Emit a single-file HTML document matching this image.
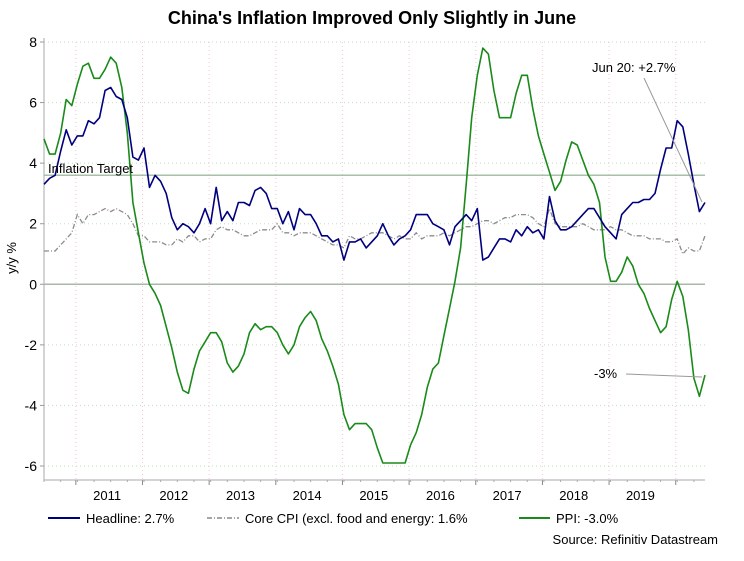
<!DOCTYPE html>
<html><head><meta charset="utf-8"><style>
body{margin:0;background:#fff;font-family:"Liberation Sans",sans-serif}
svg{display:block}
</style></head><body>
<svg id="c" width="744" height="561" xmlns="http://www.w3.org/2000/svg" font-family="Liberation Sans, sans-serif">
<text x="372" y="24" text-anchor="middle" font-size="18" font-weight="bold" fill="#000">China's Inflation Improved Only Slightly in June</text>
<g id="grid"></g>
<g id="axes"></g>
<g id="series"></g>
<text transform="translate(16,258) rotate(-90)" text-anchor="middle" font-size="13">y/y %</text>
<text x="48" y="173" font-size="13" fill="#000">Inflation Target</text>
<text x="592" y="72" font-size="13">Jun 20: +2.7%</text>
<line x1="644" y1="78" x2="702" y2="202" stroke="#999" stroke-width="1"/>
<text x="594" y="378" font-size="13">-3%</text>
<line x1="626" y1="374" x2="702" y2="377" stroke="#999" stroke-width="1"/>
<g font-size="13">
<line x1="48" y1="518" x2="80" y2="518" stroke="#00007f" stroke-width="2"/>
<text x="86" y="523">Headline: 2.7%</text>
<line x1="207" y1="518" x2="239" y2="518" stroke="#888" stroke-width="1.5" stroke-dasharray="5,2,1,2"/>
<text x="245" y="523">Core CPI (excl. food and energy: 1.6%</text>
<line x1="519" y1="518" x2="550" y2="518" stroke="#1a8a1a" stroke-width="2"/>
<text x="556" y="523">PPI: -3.0%</text>
</g>
<text x="718" y="544" text-anchor="end" font-size="13">Source: Refinitiv Datastream</text>
</svg>
<script>
const years=["2011","2012","2013","2014","2015","2016","2017","2018","2019"];
const yTicks=[8,6,4,2,0,-2,-4,-6];
const headline=[3.3,3.5,3.6,4.4,5.1,4.6,
4.9,4.9,5.4,5.3,5.5,6.4,6.5,6.2,6.1,5.5,4.2,4.1,
4.5,3.2,3.6,3.4,3.0,2.2,1.8,2.0,1.9,1.7,2.0,2.5,
2.0,3.2,2.1,2.4,2.1,2.7,2.7,2.6,3.1,3.2,3.0,2.5,
2.5,2.0,2.4,1.8,2.5,2.3,2.3,2.0,1.6,1.6,1.4,1.5,
0.8,1.4,1.4,1.5,1.2,1.4,1.6,2.0,1.6,1.3,1.5,1.6,
1.8,2.3,2.3,2.3,2.0,1.9,1.8,1.3,1.9,2.1,2.3,2.1,
2.5,0.8,0.9,1.2,1.5,1.5,1.4,1.8,1.6,1.9,1.7,1.8,
1.5,2.9,2.1,1.8,1.8,1.9,2.1,2.3,2.5,2.5,2.2,1.9,
1.7,1.5,2.3,2.5,2.7,2.7,2.8,2.8,3.0,3.8,4.5,4.5,
5.4,5.2,4.3,3.3,2.4,2.7];
const core=[1.1,1.1,1.1,1.3,1.5,1.7,
2.3,2.0,2.3,2.3,2.4,2.5,2.4,2.5,2.4,2.3,2.0,1.6,
1.6,1.4,1.4,1.4,1.3,1.3,1.5,1.4,1.6,1.6,1.4,1.5,
1.5,1.8,1.9,1.8,1.8,1.7,1.6,1.6,1.7,1.8,1.8,1.8,
2.0,1.7,1.7,1.6,1.7,1.7,1.7,1.6,1.5,1.4,1.3,1.3,
1.2,1.6,1.5,1.5,1.6,1.7,1.7,1.7,1.6,1.5,1.6,1.5,
1.5,1.7,1.5,1.6,1.6,1.6,1.7,1.6,1.7,1.8,1.9,1.9,
2.0,2.1,2.1,2.0,2.1,2.2,2.2,2.3,2.3,2.3,2.2,2.0,
1.9,2.5,2.0,1.9,1.9,1.9,1.9,2.0,1.9,1.8,1.8,1.8,
1.9,1.8,1.8,1.7,1.6,1.6,1.6,1.5,1.5,1.5,1.4,1.4,
1.5,1.0,1.2,1.1,1.1,1.6];
const ppi=[4.8,4.3,4.3,5.0,6.1,5.9,
6.6,7.2,7.3,6.8,6.8,7.1,7.5,7.3,6.5,5.0,2.7,1.7,
0.7,0.0,-0.3,-0.7,-1.4,-2.1,-2.9,-3.5,-3.6,-2.8,-2.2,-1.9,
-1.6,-1.6,-1.9,-2.6,-2.9,-2.7,-2.3,-1.6,-1.3,-1.5,-1.4,-1.4,
-1.6,-2.0,-2.3,-2.0,-1.4,-1.1,-0.9,-1.2,-1.8,-2.2,-2.7,-3.3,
-4.3,-4.8,-4.6,-4.6,-4.6,-4.8,-5.4,-5.9,-5.9,-5.9,-5.9,-5.9,
-5.3,-4.9,-4.3,-3.4,-2.8,-2.6,-1.7,-0.8,0.1,1.2,3.3,5.5,
6.9,7.8,7.6,6.4,5.5,5.5,5.5,6.3,6.9,6.9,5.8,4.9,
4.3,3.7,3.1,3.4,4.1,4.7,4.6,4.1,3.6,3.3,2.7,0.9,
0.1,0.1,0.4,0.9,0.6,0.0,-0.3,-0.8,-1.2,-1.6,-1.4,-0.5,
0.1,-0.4,-1.5,-3.1,-3.7,-3.0];
const target=3.6;
const L=44,R=705,T=42,B=466,AX=480;
const N=headline.length;
const xs=i=>L+i*(R-L)/(N-1);
const ys=v=>T+(8-v)*(B-T)/14;
const yearX=k=>xs(6+12*k)-1.5;
const NS="http://www.w3.org/2000/svg";
function mk(tag,parent,attrs){const e=document.createElementNS(NS,tag);for(const k in attrs)e.setAttribute(k,attrs[k]);parent.appendChild(e);return e;}
const grid=document.getElementById('grid'),axes=document.getElementById('axes'),ser=document.getElementById('series');
yTicks.forEach(v=>{
 const g=mk('line',grid,{x1:L,x2:R,y1:ys(v),y2:ys(v),stroke:'#bfe0bf','stroke-dasharray':'1,3'});
 
 
 const t=mk('text',axes,{x:37,y:ys(v)+5,'text-anchor':'end','font-size':'14'});
 t.textContent=v;
 
 
 const tk=mk('line',axes,{x1:L-4,x2:L,y1:ys(v),y2:ys(v),stroke:'#999'});
 
 
});
for(let k=0;k<=9;k++){
 const x=yearX(k);
 const g=mk('line',grid,{x1:x,x2:x,y1:T,y2:AX,stroke:'#f0c8d8','stroke-dasharray':'1,3'});
 
 
 const tk=mk('line',axes,{x1:x,x2:x,y1:AX,y2:AX+5,stroke:'#888'});
 
 
}
for(let i=0;i<N;i+=3){
 const tk=mk('line',axes,{x1:xs(i),x2:xs(i),y1:AX,y2:AX+2,stroke:'#aaa'});
 
 
}
years.forEach((y,k)=>{
 const t=mk('text',axes,{x:(yearX(k)+yearX(k+1))/2-2,y:AX+20,'text-anchor':'middle','font-size':'13'});
 t.textContent=y;
 
 
});
const la=mk('line',axes,{x1:L,x2:L,y1:T-4,y2:AX,stroke:'#aaa'});


const ba=mk('line',axes,{x1:L,x2:R,y1:AX,y2:AX,stroke:'#aaa'});


const z=mk('line',ser,{x1:L,x2:R,y1:ys(0),y2:ys(0),stroke:'#a8b8a8','stroke-width':1.5});


const tl=mk('line',ser,{x1:L,x2:R,y1:ys(target),y2:ys(target),stroke:'#a8bfa8','stroke-width':1.5});


function path(arr){return arr.map((v,i)=>(i?'L':'M')+xs(i).toFixed(1)+','+ys(v).toFixed(1)).join('');}
const pc=mk('path',ser,{d:path(core),fill:'none',stroke:'#8c8c8c','stroke-width':1.3,'stroke-dasharray':'5,2,1,2'});


const pp=mk('path',ser,{d:path(ppi),fill:'none',stroke:'#1a8a1a','stroke-width':1.6,'stroke-linejoin':'round'});


const ph=mk('path',ser,{d:path(headline),fill:'none',stroke:'#00007f','stroke-width':1.6,'stroke-linejoin':'round'});


</script>
</body></html>
